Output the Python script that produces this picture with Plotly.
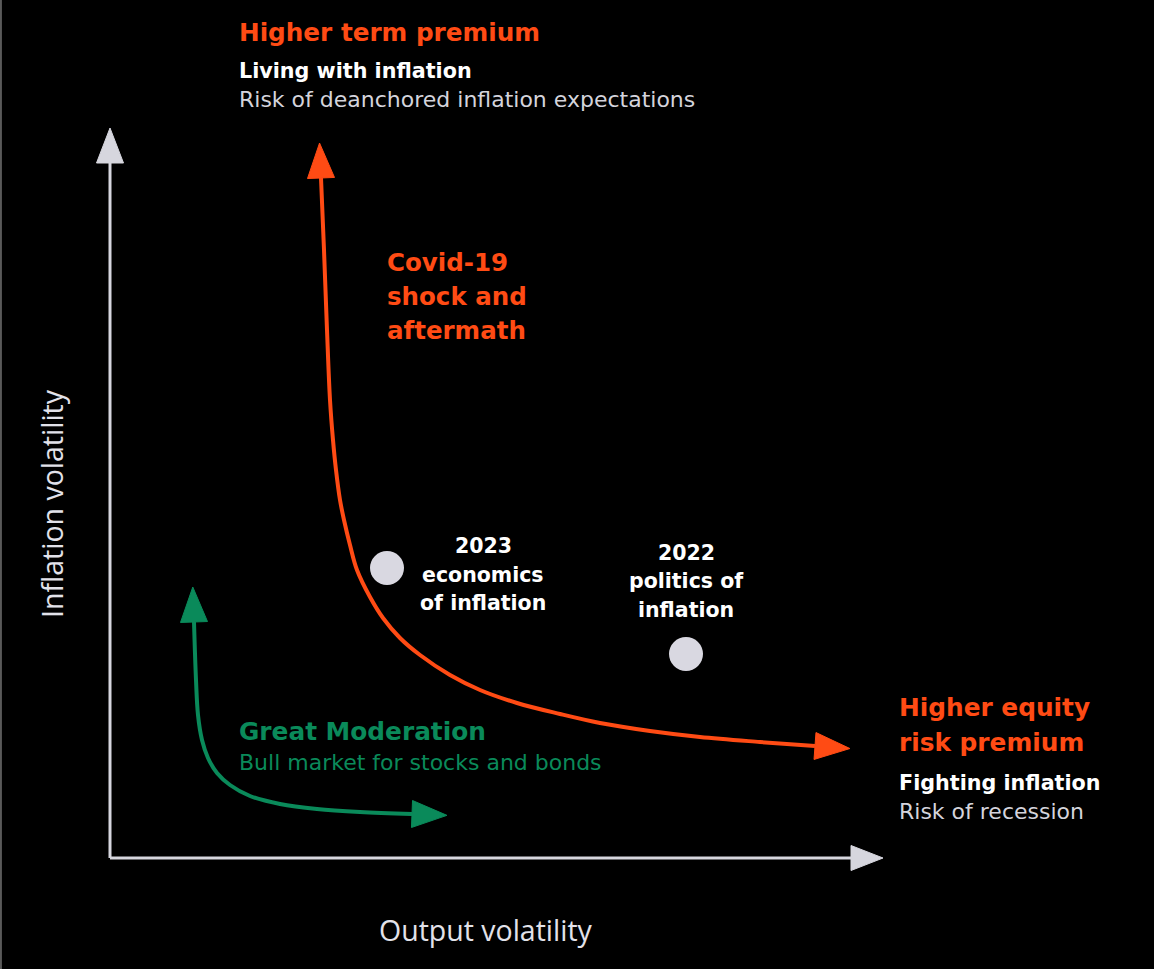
import numpy as np
import plotly.graph_objects as go

# Conceptual space: x = output volatility, y = inflation volatility (origin at the axis corner)
X_RANGE = [-110, 1044]
Y_RANGE = [-111, 858]

# Axes of the diagram
axis_x_end = [741, 0]
axis_y_end = [0, 695]

# Covid-19 shock and aftermath path (from high inflation volatility to high output volatility)
covid_x = [211, 214, 217, 220, 223, 226, 230, 234, 240, 247, 260, 273, 290, 310, 340,
           370, 407, 450, 490, 540, 590, 650, 705]
covid_y = [680, 608, 528, 458, 418, 388, 358, 338, 313, 288, 261, 240, 220, 203, 183,
           168, 155, 144, 135, 127, 121, 116, 112]

# Great Moderation path
gm_x = [84, 86, 88, 92, 98, 107, 120, 140, 170, 207, 250, 302]
gm_y = [236, 178, 143, 118, 100, 85, 73, 62, 54, 49, 46, 44]

# Regime markers and their labels
regime_x = [277, 576]
regime_y = [290, 204]
regime_lines = [["2023", "economics", "of inflation"], ["2022", "politics of", "inflation"]]
regime_label_x = [373, 576]
regime_label_y = [[312, 283, 255], [305, 277, 248]]

# Callout texts
covid_lines = ["Covid-19", "shock and", "aftermath"]
covid_lines_y = [596, 562, 528]
equity_lines = ["Higher equity", "risk premium"]
equity_lines_y = [151, 116]

ORANGE = "#FF4B14"
GREEN = "#0A8A5A"
AXIS = "#D6D6DE"
DOT = "#D9D8E1"
GREY_TEXT = "#D4D4DC"


def arrow_head(x_from, y_from, x_base, y_base, length, half_width):
    """Triangle pointing from (x_from, y_from) through the base point."""
    d = np.array([x_base - x_from, y_base - y_from], dtype=float)
    d /= np.linalg.norm(d)
    n = np.array([-d[1], d[0]])
    base = np.array([x_base, y_base], dtype=float)
    tip = base + d * length
    p1 = base + n * half_width
    p2 = base - n * half_width
    return [p1[0], tip[0], p2[0], p1[0]], [p1[1], tip[1], p2[1], p1[1]]


fig = go.Figure()


def add_arrow_path(xs, ys, color, width, length, half_width, both=True, smooth=True):
    fig.add_trace(go.Scatter(
        x=xs, y=ys, mode="lines",
        line=dict(color=color, width=width, shape="spline" if smooth else "linear", smoothing=1.0),
        hoverinfo="skip", showlegend=False,
    ))
    heads = [(xs[-2], ys[-2], xs[-1], ys[-1])]
    if both:
        heads.append((xs[1], ys[1], xs[0], ys[0]))
    for fx, fy, bx, by in heads:
        hx, hy = arrow_head(fx, fy, bx, by, length, half_width)
        fig.add_trace(go.Scatter(
            x=hx, y=hy, mode="lines", fill="toself", fillcolor=color,
            line=dict(color=color, width=1), hoverinfo="skip", showlegend=False,
        ))


# Axes with arrowheads
add_arrow_path([0, axis_x_end[0]], [0, axis_x_end[1]], AXIS, 3, 32, 12.5, both=False, smooth=False)
add_arrow_path([0, axis_y_end[0]], [0, axis_y_end[1]], AXIS, 3, 35, 13.5, both=False, smooth=False)

# Paths
add_arrow_path(gm_x, gm_y, GREEN, 4, 35, 13.5)
add_arrow_path(covid_x, covid_y, ORANGE, 4, 35, 13.5)

# Regime dots
fig.add_trace(go.Scatter(
    x=regime_x, y=regime_y, mode="markers",
    marker=dict(size=34, color=DOT, line=dict(width=0)),
    hoverinfo="skip", showlegend=False,
))

SANS = "'DejaVu Sans', Verdana, sans-serif"
AXIS_FONT = "'Open Sans', 'Noto Sans', sans-serif"


def note(x, y, text, size, color, weight="bold", xanchor="left", yanchor="middle", align="left",
         family=SANS, angle=0):
    fig.add_annotation(
        x=x, y=y, text=text, showarrow=False, xanchor=xanchor, yanchor=yanchor, align=align,
        textangle=angle, borderpad=0,
        font=dict(family=family, size=size, color=color, weight=weight),
    )


note(128, 826, "Higher term premium", 24.7, ORANGE)
note(128, 787, "Living with inflation", 20.7, "#FFFFFF")
note(128, 759, "Risk of deanchored inflation expectations", 22, GREY_TEXT, weight="normal")

for line, ly in zip(covid_lines, covid_lines_y):
    note(276, ly, line, 24.5, ORANGE)

for lines, lx, lys in zip(regime_lines, regime_label_x, regime_label_y):
    for line, ly in zip(lines, lys):
        note(lx, ly, line, 20.5, "#FFFFFF", xanchor="center", align="center")

note(128, 127, "Great Moderation", 24.8, GREEN)
note(128, 96, "Bull market for stocks and bonds", 22, GREEN, weight="normal")

for line, ly in zip(equity_lines, equity_lines_y):
    note(788, ly, line, 24.8, ORANGE)
note(788, 75, "Fighting inflation", 20.7, "#FFFFFF")
note(788, 47, "Risk of recession", 22, GREY_TEXT, weight="normal")

note(376, -72, "Output volatility", 28.5, "#E2E2EA", weight="normal", xanchor="center", family=AXIS_FONT)
note(-58, 354, "Inflation volatility", 28.5, "#E2E2EA", weight="normal", xanchor="center",
     family=AXIS_FONT, angle=-90)

fig.update_layout(
    width=1154, height=969,
    margin=dict(l=0, r=0, t=0, b=0),
    paper_bgcolor="#000000", plot_bgcolor="#000000",
    xaxis=dict(range=X_RANGE, visible=False, fixedrange=True),
    yaxis=dict(range=Y_RANGE, visible=False, fixedrange=True),
    shapes=[dict(type="line", xref="paper", yref="paper", x0=0.0008, x1=0.0008, y0=0, y1=1,
                 line=dict(color="#5A5A5A", width=2))],
)

fig.write_html("out.html")
